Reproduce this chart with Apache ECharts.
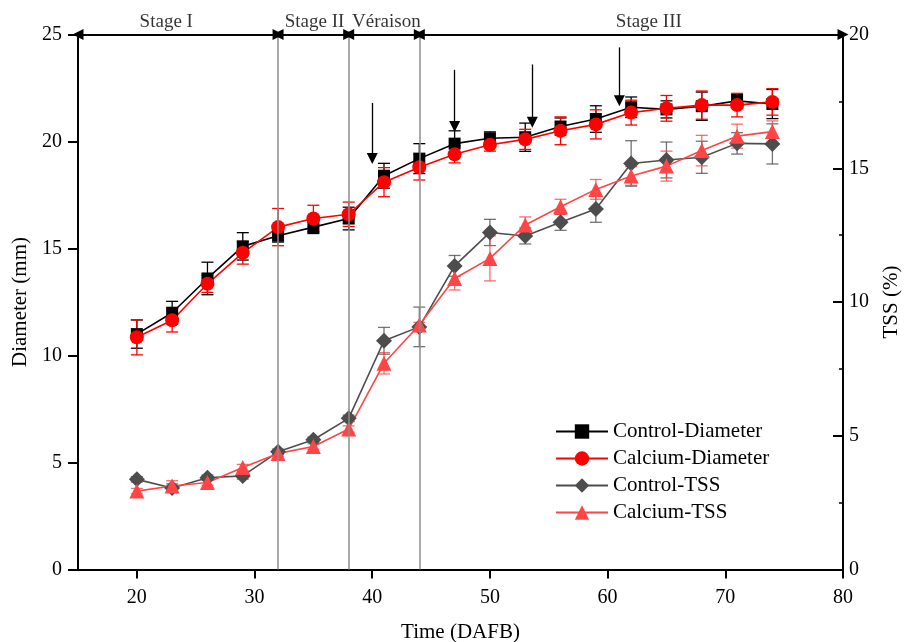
<!DOCTYPE html>
<html>
<head>
<meta charset="utf-8">
<script src="https://cdn.jsdelivr.net/npm/echarts@6/dist/echarts.min.js"></script>
<style>html,body{margin:0;padding:0;background:#fff;overflow:hidden}#c{width:906px;height:642px}</style>
</head>
<body>
<div id="c"></div>
<script>
// ---- data ----
const days = [20,23,26,29,32,35,38,41,44,47,50,53,56,59,62,65,68,71,74];
const controlDiam = [11.0,12.0,13.6,15.1,15.6,16.0,16.4,18.4,19.2,19.9,20.15,20.2,20.7,21.05,21.6,21.5,21.65,21.9,21.75];
const controlDiamErr = [0.66,0.53,0.76,0.64,0.3,0.3,0.53,0.58,0.7,0.6,0.3,0.66,0.4,0.62,0.48,0.4,0.66,0.3,0.68];
const calciumDiam = [10.85,11.65,13.35,14.8,16.0,16.4,16.6,18.1,18.8,19.4,19.85,20.1,20.5,20.8,21.35,21.55,21.7,21.7,21.85];
const calciumDiamErr = [0.82,0.55,0.4,0.53,0.87,0.62,0.57,0.68,0.6,0.4,0.3,0.47,0.65,0.68,0.58,0.6,0.66,0.55,0.62];
const controlTSS = [3.37,3.05,3.43,3.5,4.4,4.85,5.65,8.55,9.07,11.35,12.6,12.47,12.98,13.48,15.18,15.31,15.41,15.93,15.91];
const controlTSSErr = [0.1,0.15,0.1,0.12,0.1,0.1,0.12,0.5,0.74,0.39,0.49,0.3,0.3,0.5,0.85,0.67,0.6,0.4,0.75];
const calciumTSS = [2.93,3.12,3.25,3.81,4.34,4.6,5.25,7.71,9.14,10.88,11.63,12.88,13.56,14.21,14.71,15.08,15.66,16.2,16.37];
const calciumTSSErr = [0.1,0.2,0.1,0.12,0.1,0.1,0.12,0.4,0.1,0.43,0.84,0.3,0.28,0.37,0.35,0.56,0.57,0.45,0.4];
const xTicks = [20,30,40,50,60,70,80];
const stageBounds = [15,32,38,44,80];
const stageNames = ['Stage I','Stage II','Véraison','Stage III'];
const stageLabelX = [22.5,35.1,41.2,63.5];
const arrowX = [40,47,53.6,61];
const arrowTop = [21.8,23.35,23.6,24.4];
const arrowTip = [19.2,20.7,20.9,21.9];

const FONT = 'Liberation Serif';
const chart = echarts.init(document.getElementById('c'), null, {width: 906, height: 642});

function errSeries(vals, errs, color, yIdx) {
  return {
    type: 'custom', yAxisIndex: yIdx, z: 3, silent: true,
    data: days.map((d,i)=>[d, vals[i]-errs[i], vals[i]+errs[i]]),
    encode: {x:0, y:[1,2]},
    renderItem: function(params, api) {
      const x = api.value(0);
      const lo = api.coord([x, api.value(1)]);
      const hi = api.coord([x, api.value(2)]);
      const w = 6;
      const st = {stroke: color, lineWidth: 1.3};
      return {type:'group', children:[
        {type:'line', shape:{x1:lo[0],y1:lo[1],x2:hi[0],y2:hi[1]}, style:st},
        {type:'line', shape:{x1:lo[0]-w,y1:lo[1],x2:lo[0]+w,y2:lo[1]}, style:st},
        {type:'line', shape:{x1:hi[0]-w,y1:hi[1],x2:hi[0]+w,y2:hi[1]}, style:st}
      ]};
    }
  };
}

function lineSeries(name, vals, color, symbol, size, yIdx) {
  return {
    name: name, type: 'line', yAxisIndex: yIdx, z: 4,
    data: days.map((d,i)=>[d, vals[i]]),
    symbol: symbol, symbolSize: size, showSymbol: true,
    lineStyle: {color: color, width: 1.6},
    itemStyle: {color: color, borderWidth: 0},
    emphasis: {disabled: true}
  };
}

const stageSegs = [];
for (let i=0;i<stageNames.length;i++) {
  stageSegs.push([{coord:[stageBounds[i],25]},{coord:[stageBounds[i+1],25]}]);
}
const arrowSegs = arrowX.map((x,i)=>[{coord:[x,arrowTop[i]], symbol:'none'},{coord:[x,arrowTip[i]], symbol:'triangle'}]);

const option = {
  animation: false,
  backgroundColor: '#fff',
  grid: {left: 78, right: 63, top: 34.5, bottom: 72.5, containLabel: false, outerBoundsMode: 'none'},
  legend: {
    orient: 'vertical', left: 550, top: 416,
    itemWidth: 52, itemHeight: 18, itemGap: 6,
    textStyle: {fontFamily: FONT, fontSize: 21, color: '#000'},
    data: ['Control-Diameter','Calcium-Diameter','Control-TSS','Calcium-TSS']
  },
  xAxis: {
    type: 'value', min: 15, max: 80,
    name: 'Time (DAFB)', nameLocation: 'middle', nameGap: 52,
    nameTextStyle: {fontFamily: FONT, fontSize: 21, color: '#000'},
    axisLine: {show: true, onZero: false, lineStyle: {color: '#000', width: 2}},
    axisTick: {show: true, inside: false, length: 9, customValues: xTicks, lineStyle: {color:'#000', width: 2}},
    axisLabel: {customValues: xTicks, margin: 18, fontFamily: FONT, fontSize: 20, color: '#000'},
    splitLine: {show: false}
  },
  yAxis: [{
    type: 'value', min: 0, max: 25, interval: 5, position: 'left',
    name: 'Diameter (mm)', nameLocation: 'middle', nameGap: 45, nameRotate: 90,
    nameTextStyle: {fontFamily: FONT, fontSize: 21, color: '#000'},
    axisLine: {show: true, lineStyle: {color: '#000', width: 2}},
    axisTick: {show: true, inside: false, length: 10, lineStyle: {color:'#000', width: 2}},
    axisLabel: {margin: 16, fontFamily: FONT, fontSize: 20, color: '#000'},
    splitLine: {show: false}
  },{
    type: 'value', min: 0, max: 20, interval: 5, position: 'right',
    name: 'TSS (%)', nameLocation: 'middle', nameGap: 38, nameRotate: 90,
    nameTextStyle: {fontFamily: FONT, fontSize: 21, color: '#000'},
    axisLine: {show: true, lineStyle: {color: '#000', width: 2}},
    axisTick: {show: true, inside: true, length: 10, lineStyle: {color:'#000', width: 2}},
    minorTick: {show: true, splitNumber: 2, length: 4, lineStyle: {color:'#000', width: 1.5}},
    axisLabel: {margin: 6, fontFamily: FONT, fontSize: 20, color: '#000'},
    splitLine: {show: false}
  }],
  series: [
    {
      type: 'scatter', yAxisIndex: 0, z: 2, silent: true,
      symbolSize: 0,
      data: stageNames.map((n,i)=>({name:n, value:[stageLabelX[i],25]})),
      label: {show: true, position: 'top', distance: 3, formatter: '{b}', fontFamily: FONT, fontSize: 19, color: '#000'},
      markLine: {
        silent: true, animation: false,
        symbol: ['none','none'],
        label: {show: false},
        lineStyle: {color: '#8c8c8c', width: 1.5, type: 'solid'},
        data: stageBounds.slice(1,4).map(v=>({xAxis: v}))
      }
    },
    {
      type: 'scatter', yAxisIndex: 0, z: 5, silent: true, symbolSize: 0, data: [],
      markLine: {
        silent: true, animation: false,
        symbol: ['triangle','triangle'], symbolSize: 11,
        label: {show: false},
        lineStyle: {color: '#000', width: 2, type: 'solid'},
        data: stageSegs
      }
    },
    {
      type: 'scatter', yAxisIndex: 0, z: 5, silent: true, symbolSize: 0, data: [],
      markLine: {
        silent: true, animation: false,
        symbol: ['none','triangle'], symbolSize: 11,
        label: {show: false},
        lineStyle: {color: '#000', width: 1.3, type: 'solid'},
        data: arrowSegs
      }
    },
    errSeries(controlTSS, controlTSSErr, 'rgba(70,70,70,0.75)', 1),
    errSeries(calciumTSS, calciumTSSErr, 'rgba(255,60,60,0.75)', 1),
    lineSeries('Control-TSS', controlTSS, '#4d4d4d', 'diamond', 16, 1),
    lineSeries('Calcium-TSS', calciumTSS, '#ff4545', 'triangle', 15, 1),
    errSeries(controlDiam, controlDiamErr, '#000', 0),
    errSeries(calciumDiam, calciumDiamErr, '#ff0000', 0),
    lineSeries('Control-Diameter', controlDiam, '#000000', 'rect', 12, 0),
    lineSeries('Calcium-Diameter', calciumDiam, '#ff0000', 'circle', 14, 0)
  ]
};
chart.setOption(option);
</script>
</body>
</html>
